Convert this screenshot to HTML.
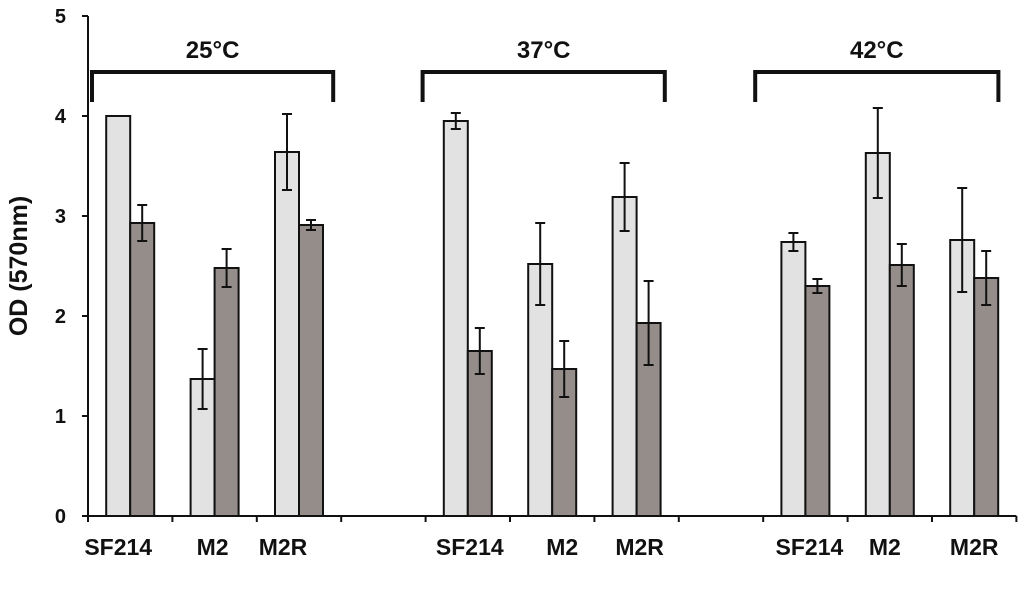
<!DOCTYPE html>
<html><head><meta charset="utf-8"><style>
html,body{margin:0;padding:0;background:#fff;}
svg text{font-family:"Liberation Sans",Arial,sans-serif;font-weight:bold;fill:#111;}
</style></head><body>
<svg id="chart" width="1024" height="594" viewBox="0 0 1024 594" xmlns="http://www.w3.org/2000/svg"></svg>
<script>
const categories = ["SF214","M2","M2R","","SF214","M2","M2R","","SF214","M2","M2R"];
const lightValues = [4.0,1.37,3.64,null,3.95,2.52,3.19,null,2.74,3.63,2.76];
const lightErrors = [0,0.30,0.38,null,0.08,0.41,0.34,null,0.09,0.45,0.52];
const darkValues = [2.93,2.48,2.91,null,1.65,1.47,1.93,null,2.30,2.51,2.38];
const darkErrors = [0.18,0.19,0.05,null,0.23,0.28,0.42,null,0.07,0.21,0.27];
const yTicks = [0,1,2,3,4,5];
const groupLabels = ["25°C","37°C","42°C"];
const groupStarts = [0,4,8];

const svg = document.getElementById('chart');
const NS = "http://www.w3.org/2000/svg";
const x0 = 88, catW = 84.4, y0 = 516, pxPerUnit = 100;
const xCat = i => x0 + catW * i;
const y = v => y0 - v * pxPerUnit;
function mk(tag, attrs){ const e=document.createElementNS(NS,tag); for(const k in attrs) e.setAttribute(k,attrs[k]); svg.appendChild(e); return e; }

let ax = mk('line',{x1:x0,y1:y(5),x2:x0,y2:y0,stroke:'#111','stroke-width':2});


let bx = mk('line',{x1:x0,y1:y0,x2:xCat(categories.length),y2:y0,stroke:'#111','stroke-width':2});


yTicks.forEach(t=>{
  let l = mk('line',{x1:x0-6,y1:y(t),x2:x0,y2:y(t),stroke:'#111','stroke-width':2});
  
  
  let tx = mk('text',{x:x0-22,y:y(t)+7,'text-anchor':'end','font-size':20});
  tx.textContent = t;
  
  
});
for(let i=0;i<=categories.length;i++){
  let l = mk('line',{x1:xCat(i),y1:y0,x2:xCat(i),y2:y0+6,stroke:'#111','stroke-width':2});
  
  
}
let yt = mk('text',{x:27,y:y0-250,'text-anchor':'middle','font-size':25,transform:`rotate(-90 27 ${y0-250})`});
yt.textContent = 'OD (570nm)';



const labelShift = [-12,-2,-16,0,2,10,3,0,4,-5,0];
const bw = 24;
categories.forEach((c,i)=>{
  if(lightValues[i]===null) return;
  const cx = xCat(i) + catW/2;
  [[lightValues[i],lightErrors[i],'#e2e2e2',cx-bw,'bar-light'],[darkValues[i],darkErrors[i],'#948d8a',cx,'bar-dark']].forEach(([v,e,col,bxp,nm])=>{
    let r = mk('rect',{x:bxp,y:y(v),width:bw,height:y0-y(v),fill:col,stroke:'#111','stroke-width':2});
    
    
    if(e>0){
      const ex = bxp + bw/2;
      let g = mk('path',{d:`M${ex},${y(v+e)}V${y(v-e)}M${ex-5},${y(v+e)}H${ex+5}M${ex-5},${y(v-e)}H${ex+5}`,stroke:'#111','stroke-width':2,fill:'none'});
      
      
    }
  });
  let lb = mk('text',{x:cx+labelShift[i],y:555,'text-anchor':'middle','font-size':23});
  lb.textContent = c;
  
  
});

const bracketStartOff = [4,-3,-8];
const bracketEndOff = [-8,-14,-18];
groupLabels.forEach((g,k)=>{
  const xa = xCat(groupStarts[k]) + bracketStartOff[k], xb = xCat(groupStarts[k]+3) + bracketEndOff[k];
  let p = mk('path',{d:`M${xa},102V72H${xb}V102`,stroke:'#111','stroke-width':4,fill:'none'});
  
  
  let t = mk('text',{x:(xa+xb)/2,y:58,'text-anchor':'middle','font-size':24});
  t.textContent = g;
  
  
});
</script>
</body></html>
